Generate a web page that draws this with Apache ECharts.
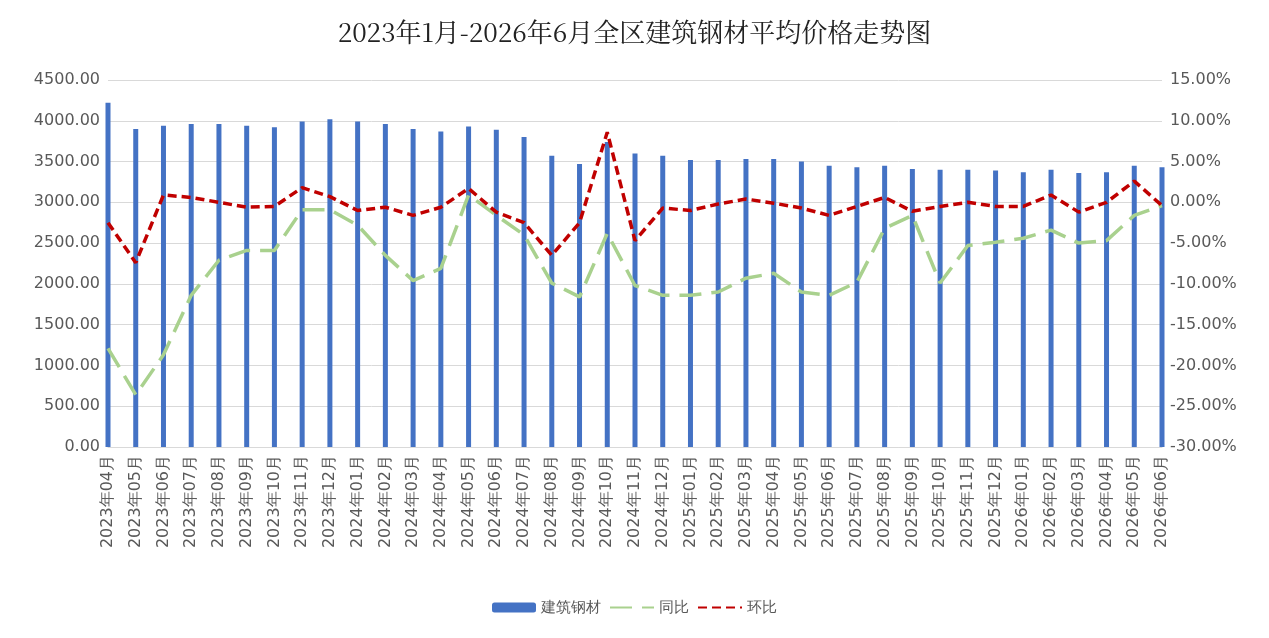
<!DOCTYPE html><html><head><meta charset="utf-8"><script src="https://cdn.jsdelivr.net/npm/echarts@6/dist/echarts.min.js"></script></head><body style="margin:0"><div id="c" style="width:1269px;height:638px"></div><script>
const categories=[];for(let y=2023,m=4;!(y===2026&&m>6);){categories.push(y+'年'+String(m).padStart(2,'0')+'月');m++;if(m>12){m=1;y++;}}
const price=[4220,3900,3940,3960,3960,3940,3920,3990,4020,3990,3960,3900,3870,3930,3890,3800,3570,3470,3740,3600,3570,3520,3520,3530,3530,3500,3450,3430,3450,3410,3400,3400,3390,3370,3400,3360,3370,3450,3430];
const yoy=[-17.9,-23.6,-18.7,-11.4,-7.1,-5.9,-5.9,-0.9,-0.9,-2.8,-6.5,-9.6,-8.1,0.9,-1.6,-4,-9.9,-11.6,-3.8,-10.2,-11.4,-11.4,-11,-9.3,-8.7,-11,-11.4,-9.8,-3.2,-1.6,-9.9,-5.3,-4.9,-4.4,-3.4,-5,-4.7,-1.6,-0.4];
const mom=[-2.5,-7.4,0.9,0.6,0,-0.6,-0.5,1.8,0.7,-1,-0.6,-1.6,-0.6,1.7,-1.2,-2.5,-6.5,-2.5,8.6,-4.7,-0.7,-1,-0.2,0.4,-0.1,-0.7,-1.6,-0.5,0.6,-1.1,-0.5,0,-0.5,-0.5,0.9,-1.2,0,2.6,-0.4];
const ax={color:'#595959',fontSize:16,fontFamily:'DejaVu Sans'};
const ch=echarts.init(document.getElementById('c'));
ch.setOption({backgroundColor:'#fff',
title:{text:'2023年1月-2026年6月全区建筑钢材平均价格走势图',left:'center',top:14,textStyle:{fontFamily:'Noto Serif CJK SC, serif',fontWeight:'normal',fontSize:26,color:'#222'}},
legend:{bottom:18,itemWidth:44,itemHeight:10,textStyle:{color:'#595959',fontSize:15},data:['建筑钢材',{name:'同比',itemStyle:{opacity:0}},{name:'环比',itemStyle:{opacity:0}}]},
grid:{left:108,right:107,top:80,bottom:191},
xAxis:{type:'category',data:categories,boundaryGap:false,axisLabel:Object.assign({rotate:90,interval:0},ax),axisTick:{show:false},axisLine:{lineStyle:{color:'#d9d9d9'}}},
yAxis:[{type:'value',min:0,max:4500,interval:500,axisLabel:Object.assign({formatter:v=>v.toFixed(2)},ax),splitLine:{lineStyle:{color:'#d9d9d9'}}},
{type:'value',min:-30,max:15,interval:5,axisLabel:Object.assign({formatter:v=>v.toFixed(2)+'%'},ax),splitLine:{show:false}}],
series:[{name:'建筑钢材',type:'bar',data:price,barWidth:5,itemStyle:{color:'#4472C4'}},
{name:'同比',type:'line',yAxisIndex:1,data:yoy,symbol:'none',lineStyle:{color:'#A9D18E',width:3.5,type:[22,10]},itemStyle:{color:'#A9D18E'}},
{name:'环比',type:'line',yAxisIndex:1,data:mom,symbol:'none',lineStyle:{color:'#C00000',width:3.5,type:[9,5]},itemStyle:{color:'#C00000'}}]});
</script></body></html>
